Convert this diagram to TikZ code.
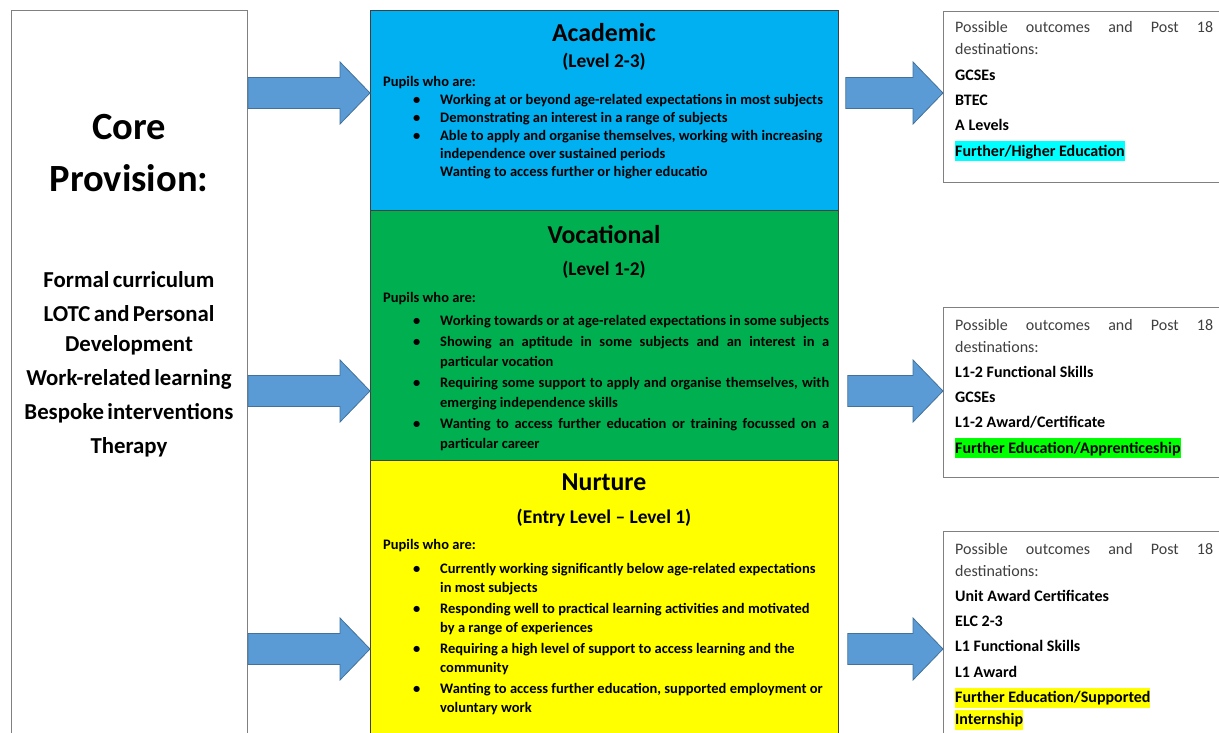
\documentclass[tikz,border=0pt]{standalone}
\usepackage{fontspec}
\setmainfont{Carlito}
\usetikzlibrary{calc}

\definecolor{acadblue}{HTML}{00B0F0}
\definecolor{vocgreen}{HTML}{00B050}
\definecolor{nurtyellow}{HTML}{FFFF00}
\definecolor{arrowblue}{HTML}{5B9BD5}
\definecolor{arrowedge}{HTML}{41719C}
\definecolor{hlcyan}{HTML}{00FFFF}
\definecolor{hlgreen}{HTML}{00FF00}
\definecolor{hlyellow}{HTML}{FFFF00}
\definecolor{textgray}{HTML}{404040}

\setlength\fboxsep{0pt}
\newcommand\bul{\par\noindent\hangindent=57pt\hangafter=1\hspace*{30pt}\makebox[27pt][l]{•}}
\newcommand\brk{\hfil\break}
\newcommand\hlstrut{\rule[-5pt]{0pt}{20pt}}
\newcommand\bodyfont[2]{\fontsize{14.5}{#1}\selectfont\bfseries\setlength\parskip{#2}}
\newcommand\outfont{\fontsize{16}{22}\selectfont\setlength\parskip{3.3pt}}

\begin{document}
\begin{tikzpicture}[
    x=1pt, y=-1pt,
    corebox/.style={rectangle, draw=black!50, line width=1pt, fill=white, anchor=north west, minimum width=236, inner sep=0},
    tier/.style={rectangle, draw=black!75, line width=0.8pt, anchor=north west, minimum width=468, inner sep=0},
    outbox/.style={rectangle, draw=black!50, line width=1.3pt, fill=white, anchor=north west, minimum width=290, inner sep=0},
    coretext/.style={anchor=base, inner sep=0, text width=236, align=center, font=\bfseries},
    title/.style={anchor=base, inner sep=0, font=\bfseries\fontsize{25.8}{30}\selectfont},
    level/.style={anchor=base, inner sep=0, font=\bfseries\fontsize{19.4}{22}\selectfont},
    body/.style={anchor=base west, inner sep=0, text width=446, align=justify, font=\bfseries},
    outtext/.style={anchor=base west, inner sep=0, text width=258, align=justify},
    bigarrow/.style={draw=arrowedge, fill=arrowblue, line width=0.8pt,
        to path={let \p1=(\tikztostart), \p2=(\tikztotarget) in
            (\x1+#1,\y1+15.5pt) -- (\x2-30pt,\y1+15.5pt) -- (\x2-30pt,\y1+31pt)
            -- (\x2,\y1) -- (\x2-30pt,\y1-31pt) -- (\x2-30pt,\y1-15.5pt)
            -- (\x1+#1,\y1-15.5pt) -- cycle}},
    bigarrow/.default=0pt
]
\useasboundingbox (0,0) rectangle (1219,733);
\clip (0,0) rectangle (1219,733);

% Rows of the arrows
\coordinate (rowA) at (0,93);
\coordinate (rowV) at (0,391);
\coordinate (rowN) at (0,649);

% Core provision
\node[corebox, minimum height=740] (core) at (11,10) {};
\node[coretext] (coreTitle) at (129,140) {\fontsize{38.5}{52}\selectfont Core\\Provision:\par};
\node[coretext] (coreList) at (129,287) {\fontsize{22.8}{31}\selectfont Formal curriculum\\[3pt]LOTC and Personal\\Development\\[3pt]Work-related learning\\[3pt]Bespoke interventions\\[3pt]Therapy\par};

% Pathways
\node[tier, fill=acadblue, minimum height=200] (acad) at (370,10) {};
\node[tier, fill=vocgreen, minimum height=250] (voc) at (370,210) {};
\node[tier, fill=nurtyellow, minimum height=285] (nurt) at (370,460) {};

\node[title] (acadTitle) at (604,42) {Academic};
\node[level] (acadLevel) at (604,68) {(Level 2-3)};
\node[body] (acadBody) at (383,87) {\bodyfont{18}{0pt}Pupils who are:
\bul Working at or beyond age-related expectations in most subjects
\bul Demonstrating an interest in a range of subjects
\bul Able to apply and organise themselves, working with increasing\brk independence over sustained periods\brk Wanting to access further or higher educatio\par};

\node[title] (vocTitle) at (604,243) {Vocational};
\node[level] (vocLevel) at (604,275) {(Level 1-2)};
\node[body] (vocBody) at (383,302) {\bodyfont{20}{1pt}Pupils who are:\par\vspace{2pt}
\bul Working towards or at age-related expectations in some subjects
\bul Showing an aptitude in some subjects and an interest in a\linebreak particular vocation
\bul Requiring some support to apply and organise themselves, with\linebreak emerging independence skills
\bul Wanting to access further education or training focussed on a\linebreak particular career\par};

\node[title] (nurtTitle) at (604,490) {Nurture};
\node[level] (nurtLevel) at (604,523) {(Entry Level -- Level 1)};
\node[body] (nurtBody) at (383,549) {\bodyfont{19.5}{1pt}Pupils who are:\par\vspace{3.5pt}
\bul Currently working significantly below age-related expectations\brk in most subjects
\bul Responding well to practical learning activities and motivated\brk by a range of experiences
\bul Requiring a high level of support to access learning and the\brk community
\bul Wanting to access further education, supported employment or\brk voluntary work\par};

% Outcomes
\node[outbox, minimum height=171] (outA) at (943,11) {};
\node[outtext] (outAText) at (955,33) {\outfont{\mdseries\color{textgray}Possible outcomes and Post 18\linebreak destinations:}\par\bfseries
GCSEs\par BTEC\par A Levels\par\colorbox{hlcyan}{\hlstrut Further/Higher Education}\par};

\node[outbox, minimum height=170] (outV) at (943,307) {};
\node[outtext] (outVText) at (955,330) {\outfont{\mdseries\color{textgray}Possible outcomes and Post 18\linebreak destinations:}\par\bfseries
L1-2 Functional Skills\par GCSEs\par L1-2 Award/Certificate\par\colorbox{hlgreen}{\hlstrut Further Education/Apprenticeship}\par};

\node[outbox, minimum height=230] (outN) at (943,531) {};
\node[outtext] (outNText) at (955,554) {\outfont{\mdseries\color{textgray}Possible outcomes and Post 18\linebreak destinations:}\par\bfseries
Unit Award Certificates\par ELC 2-3\par L1 Functional Skills\par L1 Award\par\colorbox{hlyellow}{\hlstrut Further Education/Supported}\brk\colorbox{hlyellow}{\hlstrut Internship}\par};

% Arrows in
\draw[bigarrow] (core.east |- rowA) to (acad.west |- rowA);
\draw[bigarrow] (core.east |- rowV) to (voc.west |- rowV);
\draw[bigarrow] (core.east |- rowN) to (nurt.west |- rowN);

% Arrows out
\draw[bigarrow=7pt] (acad.east |- rowA) to (outA.west |- rowA);
\draw[bigarrow=9pt] (voc.east |- rowV) to (outV.west |- rowV);
\draw[bigarrow=9pt] (nurt.east |- rowN) to (outN.west |- rowN);

\end{tikzpicture}
\end{document}
